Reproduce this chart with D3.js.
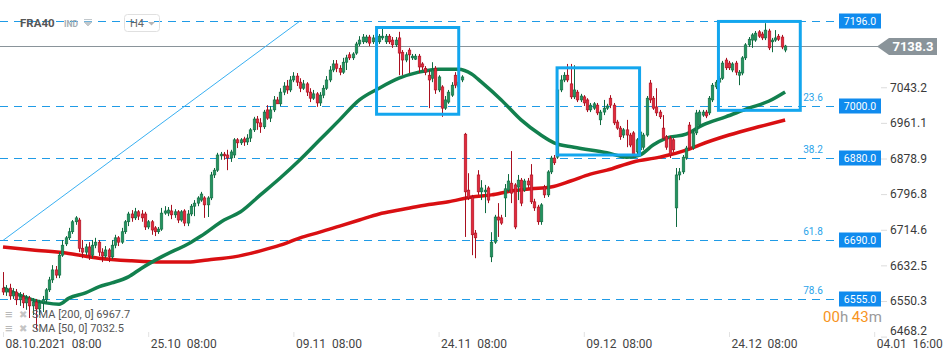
<!DOCTYPE html>
<html>
<head>
<meta charset="utf-8">
<script src="https://cdn.jsdelivr.net/npm/d3@7"></script>
<style>
  body { margin: 0; background: #fff; }
  svg { font-family: Roboto, "Liberation Sans", sans-serif; display: block; }
</style>
</head>
<body>
<div id="chart"></div>
<script>
// H4 candles, one row per bar: [open, high, low, close]
const bars = [
  [6580,6617,6564,6571],[6571,6587,6562,6580],[6580,6590,6553,6562],[6562,6580,6555,6571],[6571,6578,6541,6553],
  [6553,6571,6539,6560],[6560,6569,6534,6546],[6546,6564,6530,6557],[6557,6562,6511,6539],[6539,6557,6518,6548],
  [6548,6555,6484,6532],[6532,6553,6518,6546],[6546,6562,6525,6553],[6553,6580,6546,6576],[6576,6606,6571,6599],
  [6599,6633,6592,6622],[6622,6631,6603,6610],[6610,6663,6603,6656],[6656,6691,6652,6679],[6682,6700,6677,6696],
  [6696,6719,6691,6710],[6710,6737,6705,6733],[6733,6746,6726,6742],[6737,6742,6663,6672],[6672,6691,6649,6663],
  [6663,6682,6656,6675],[6675,6686,6645,6656],[6656,6691,6649,6679],[6679,6696,6672,6686],[6686,6691,6654,6663],
  [6663,6672,6640,6654],[6654,6677,6649,6668],[6668,6672,6640,6652],[6652,6691,6647,6679],[6679,6703,6672,6696],
  [6696,6700,6677,6686],[6686,6719,6682,6710],[6710,6737,6705,6733],[6733,6756,6723,6751],[6751,6760,6733,6742],
  [6742,6765,6737,6756],[6756,6760,6737,6746],[6751,6760,6733,6742],[6751,6756,6714,6721],[6721,6737,6716,6733],
  [6733,6737,6703,6714],[6719,6723,6700,6710],[6710,6721,6705,6716],[6716,6765,6712,6753],[6753,6769,6749,6758],
  [6753,6767,6746,6760],[6758,6772,6739,6749],[6749,6762,6742,6756],[6756,6760,6730,6737],[6737,6760,6733,6756],
  [6758,6762,6723,6730],[6730,6760,6723,6751],[6751,6774,6746,6769],[6769,6783,6746,6776],[6776,6792,6769,6788],
  [6783,6802,6779,6797],[6788,6792,6742,6772],[6772,6792,6744,6788],[6788,6848,6783,6841],[6841,6857,6834,6852],
  [6852,6892,6848,6887],[6885,6894,6876,6889],[6889,6894,6876,6885],[6887,6899,6852,6880],[6880,6899,6871,6894],
  [6887,6926,6880,6922],[6922,6926,6903,6915],[6915,6926,6910,6922],[6924,6929,6908,6917],[6917,6935,6910,6926],
  [6926,6949,6917,6945],[6945,6975,6940,6970],[6970,6977,6945,6961],[6961,6972,6938,6952],[6952,6991,6947,6986],
  [6991,7002,6968,6972],[6972,7000,6963,6991],[6991,7023,6986,7014],[7014,7021,7005,7005],[7005,7041,7000,7032],
  [7032,7055,7025,7046],[7046,7060,7028,7037],[7037,7069,7032,7060],[7060,7078,7055,7069],[7069,7076,7046,7055],
  [7055,7064,7032,7041],[7041,7060,7037,7051],[7051,7055,7023,7032],[7032,7041,7009,7018],[7018,7037,7014,7028],
  [7028,7032,6998,7007],[7007,7032,7000,7025],[7025,7048,7018,7041],[7041,7069,7037,7060],[7060,7092,7055,7083],
  [7083,7106,7078,7097],[7097,7106,7078,7087],[7087,7094,7071,7078],[7078,7111,7074,7101],[7101,7118,7083,7111],
  [7118,7124,7106,7111],[7111,7124,7106,7120],[7122,7148,7118,7143],[7143,7161,7138,7152],[7148,7166,7143,7159],
  [7148,7164,7145,7159],[7159,7164,7138,7145],[7148,7164,7143,7157],[7157,7164,7145,7152],[7148,7166,7143,7161],
  [7157,7180,7152,7161],[7148,7166,7143,7161],[7161,7166,7143,7148],[7152,7159,7134,7141],[7141,7159,7136,7152],
  [7157,7171,7071,7122],[7124,7129,7071,7106],[7106,7124,7101,7118],[7129,7134,7076,7118],[7111,7120,7106,7115],
  [7108,7120,7106,7115],[7115,7120,7076,7090],[7097,7101,7083,7090],[7087,7092,7071,7078],[7071,7083,6995,7060],
  [7064,7101,7055,7083],[7087,7092,7028,7037],[7037,7071,7032,7067],[7044,7048,6975,6995],[6995,7023,6991,7014],
  [7009,7037,7005,7032],[7025,7055,7021,7048],[7071,7078,7041,7048],[7044,7060,7041,7055],[7060,7071,7055,7067],
  [6935,6938,6698,6802],[6806,6845,6783,6788],[6790,6795,6656,6703],[6707,6714,6649,6696],[6841,6852,6795,6802],
  [6802,6829,6783,6811],[6802,6818,6753,6806],[6811,6815,6776,6783],[6652,6709,6640,6686],[6686,6749,6682,6744],
  [6744,6776,6698,6737],[6742,6749,6726,6730],[6788,6820,6744,6809],[6806,6843,6802,6827],[6822,6896,6776,6799],
  [6818,6822,6716,6721],[6813,6841,6783,6829],[6829,6834,6769,6776],[6806,6832,6802,6827],[6827,6834,6811,6818],
  [6841,6866,6774,6779],[6779,6786,6758,6765],[6767,6772,6726,6733],[6733,6776,6726,6772],[6813,6818,6788,6795],
  [6795,6852,6790,6848],[6848,6885,6843,6880],[6880,6887,6864,6869],[6882,7041,6878,7037],[7037,7071,7032,7060],
  [7060,7078,7055,7071],[7071,7097,7055,7060],[7051,7097,7016,7021],[7021,7094,7016,7037],[7032,7037,7009,7014],
  [7014,7028,7009,7023],[7021,7025,7000,7007],[7014,7018,6986,6991],[6991,7007,6986,7002],[6995,7009,6991,7005],
  [7002,7007,6979,6984],[6968,6991,6956,6986],[6986,7014,6979,6995],[6995,7005,6991,7000],[7018,7025,6995,7002],
  [7002,7007,6956,6961],[6963,6968,6945,6949],[6949,6954,6922,6929],[6933,6949,6926,6945],[6945,6968,6905,6933],
  [6933,6938,6905,6910],[6938,6942,6882,6887],[6894,6926,6887,6922],[6899,6945,6894,6940],[6905,6938,6899,6933],
  [6933,7023,6929,7018],[7053,7060,7007,7014],[7018,7023,6991,6995],[6998,7041,6977,6984],[6986,6991,6970,6975],
  [6949,6979,6922,6926],[6929,6933,6899,6905],[6926,6931,6880,6887],[6922,6926,6894,6899],[6765,6857,6721,6841],
  [6841,6857,6829,6848],[6848,6887,6843,6882],[6880,6908,6876,6903],[6956,6963,6899,6903],[6903,6945,6899,6938],
  [6938,6991,6933,6984],[6956,6991,6952,6986],[6979,6991,6975,6986],[6986,6991,6972,6977],[6984,7023,6979,7018],
  [7014,7053,7009,7048],[7044,7060,7039,7055],[7055,7069,7051,7064],[7064,7104,7060,7099],[7106,7111,7083,7088],
  [7099,7104,7083,7088],[7083,7101,7078,7097],[7099,7104,7071,7078],[7071,7083,7048,7078],[7076,7115,7071,7111],
  [7111,7145,7106,7141],[7141,7159,7136,7154],[7152,7168,7134,7164],[7152,7173,7148,7168],[7171,7175,7157,7161],
  [7166,7171,7152,7157],[7157,7191,7152,7175],[7173,7178,7129,7134],[7148,7157,7124,7152],[7152,7175,7148,7157],
  [7161,7166,7150,7154],[7159,7164,7131,7136],[7129,7141,7124,7138.3]
];

// moving averages: [bar index, value]
const sma50 = [
  [0,6580],[5,6564],[9,6553],[13,6546],[17,6543],[20,6557],[25,6569],[29,6583],[33,6592],[38,6606],
  [42,6626],[48,6652],[57,6686],[60,6700],[67,6737],[72,6756],[78,6795],[84,6834],[90,6876],[96,6922],
  [102,6968],[108,7014],[114,7041],[120,7064],[126,7078],[132,7085],[138,7085],[142,7074],[145,7055],
  [151,7014],[157,6968],[163,6933],[167,6915],[173,6905],[183,6892],[189,6882],[193,6887],[197,6910],
  [201,6926],[207,6935],[212,6956],[219,6975],[226,6995],[232,7011],[237,7032.5]
];
const sma200 = [
  [0,6675],[9,6668],[19,6661],[29,6649],[39,6643],[48,6640],[56,6640],[62,6645],[70,6652],[78,6666],
  [84,6679],[90,6696],[96,6709],[102,6723],[108,6737],[114,6751],[120,6760],[126,6769],[135,6779],
  [142,6790],[148,6795],[154,6804],[160,6809],[166,6813],[172,6827],[178,6843],[183,6852],[191,6871],
  [199,6882],[207,6898],[211,6910],[220,6933],[229,6952],[237,6967.7]
];

const fibLevels = [7196.0, 7000.0, 6880.0, 6690.0, 6555.0];
const fibPct = ["", "23.6", "38.2", "61.8", "78.6"];
const lastPrice = 7138.3;
const priceTicks = [7043.2, 6961.1, 6878.9, 6796.8, 6714.6, 6632.5, 6550.3, 6468.2];
const timeTicks = [0, 44, 88, 132, 176, 220, 264];
const timeLabels = ["08.10.2021  08:00", "25.10  08:00", "09.11  08:00", "24.11  08:00",
                    "09.12  08:00", "24.12  08:00", "04.01  16:00"];
// boxes: [first bar, last bar, top price, bottom price]
const boxes = [[113.2, 138.1, 7181, 6981], [167.9, 192.9, 7088, 6887], [216.8, 241.6, 7195, 6990]];
const trend = [[0, 6690], [90, 7196]];

const w = 950, h = 361;
const plotRight = 836;

const x = d3.scaleLinear().domain([0, 237]).range([3, 3 + 237 * 3.3]);
const y = d3.scaleLinear().domain([6468.2, 7196]).range([336.6, 21]);

const svg = d3.select("#chart").append("svg")
    .attr("width", w)
    .attr("height", h);

svg.append("defs").append("clipPath").attr("id", "plot")
  .append("rect").attr("x", 0).attr("y", 0).attr("width", plotRight).attr("height", 332);

// fibonacci dashed levels
const fibColor = "#1f9be6";
svg.append("g").selectAll("line")
  .data(fibLevels)
  .join("line")
  .attr("x1", 0)
  .attr("x2", 838)
  .attr("y1", d => Math.round(y(d)) + 0.5)
  .attr("y2", d => Math.round(y(d)) + 0.5)
  .attr("stroke", fibColor)
  .attr("stroke-width", 1)
  .attr("stroke-dasharray", "8,6");

svg.append("g").selectAll("text")
  .data(fibLevels)
  .join("text")
  .attr("x", 813)
  .attr("y", d => y(d) - 5)
  .attr("text-anchor", "middle")
  .attr("font-size", 10)
  .attr("fill", "#2aa4ea")
  .text((d, i) => fibPct[i]);

// last price line
svg.append("line")
  .attr("x1", 0).attr("x2", 878)
  .attr("y1", Math.round(y(lastPrice)) + 0.5)
  .attr("y2", Math.round(y(lastPrice)) + 0.5)
  .attr("stroke", "#8a949a")
  .attr("stroke-width", 1);

const plot = svg.append("g").attr("clip-path", "url(#plot)");

// trend line
plot.append("line")
  .attr("x1", x(trend[0][0])).attr("y1", y(trend[0][1]))
  .attr("x2", x(trend[1][0])).attr("y2", y(trend[1][1]))
  .attr("stroke", "#39b0f2")
  .attr("stroke-width", 1);

// moving averages
const line = d3.line()
  .x(d => x(d[0]))
  .y(d => y(d[1]))
  .curve(d3.curveMonotoneX);

plot.append("path")
  .attr("d", line(sma200))
  .attr("fill", "none")
  .attr("stroke", "#d90f12")
  .attr("stroke-width", 3.5);

plot.append("path")
  .attr("d", line(sma50))
  .attr("fill", "none")
  .attr("stroke", "#12804e")
  .attr("stroke-width", 3.5);

// candles
const upFill = "#23935f", upLine = "#0f6a40";
const dnFill = "#e22a3c", dnLine = "#a80f1f";

const candles = plot.append("g").selectAll("g")
  .data(bars)
  .join("g");

candles.append("line")
  .attr("x1", (d, i) => Math.round(x(i)) + 0.5)
  .attr("x2", (d, i) => Math.round(x(i)) + 0.5)
  .attr("y1", d => y(d[1]))
  .attr("y2", d => y(d[2]))
  .attr("stroke", d => d[3] >= d[0] ? upLine : dnLine)
  .attr("stroke-width", 1);

candles.append("rect")
  .attr("x", (d, i) => Math.round(x(i)) - 0.8)
  .attr("width", 2.6)
  .attr("y", d => y(Math.max(d[0], d[3])))
  .attr("height", d => Math.max(1, Math.abs(y(d[0]) - y(d[3]))))
  .attr("fill", d => d[3] >= d[0] ? upFill : dnFill)
  .attr("stroke", d => d[3] >= d[0] ? upLine : dnLine)
  .attr("stroke-width", 0.6);

// highlight boxes
svg.append("g").selectAll("rect")
  .data(boxes)
  .join("rect")
  .attr("x", d => x(d[0]))
  .attr("y", d => y(d[2]))
  .attr("width", d => x(d[1]) - x(d[0]))
  .attr("height", d => y(d[3]) - y(d[2]))
  .attr("fill", "none")
  .attr("stroke", "#13a6ee")
  .attr("stroke-width", 3);

// price axis on the right
const yAxis = d3.axisRight(y)
  .tickValues(priceTicks)
  .tickSize(6)
  .tickPadding(3)
  .tickFormat(d3.format(".1f"));

const yG = svg.append("g")
  .attr("transform", "translate(881,0)")
  .call(yAxis);
yG.select(".domain").remove();
yG.selectAll(".tick line").attr("stroke", "#dcdcdc");
yG.selectAll(".tick text")
  .attr("font-size", 12)
  .attr("font-family", "Roboto, sans-serif")
  .attr("fill", "#3a3a3a")
  .attr("dy", (d, i) => i === priceTicks.length - 1 ? "-0.2em" : "0.32em");

// level tags
const tags = svg.append("g").selectAll("g")
  .data(fibLevels)
  .join("g")
  .attr("transform", d => "translate(839," + Math.round(y(d)) + ")");
tags.append("rect")
  .attr("x", 0).attr("y", -7.5)
  .attr("width", 42).attr("height", 15)
  .attr("fill", "#108bee");
tags.append("text")
  .attr("x", 21).attr("y", 0)
  .attr("dy", "0.35em")
  .attr("text-anchor", "middle")
  .attr("font-size", 10.5)
  .attr("fill", "#fff")
  .text(d => d3.format(".1f")(d));

// last price tag
const ly = Math.round(y(lastPrice)) + 0.5;
svg.append("path")
  .attr("d", `M877,${ly} L889,${ly - 8.5} L937,${ly - 8.5} L937,${ly + 8.5} L889,${ly + 8.5} Z`)
  .attr("fill", "#8a949a");
svg.append("text")
  .attr("x", 913).attr("y", ly)
  .attr("dy", "0.35em")
  .attr("text-anchor", "middle")
  .attr("font-size", 13)
  .attr("font-weight", "bold")
  .attr("fill", "#fff")
  .text(d3.format(".1f")(lastPrice));

// countdown
const cd = svg.append("text")
  .attr("x", 823).attr("y", 322)
  .attr("font-size", 15);
cd.append("tspan").attr("fill", "#f7941d").text("00");
cd.append("tspan").attr("fill", "#9a9a9a").text("h ");
cd.append("tspan").attr("fill", "#f7941d").text("43");
cd.append("tspan").attr("fill", "#9a9a9a").text("m");

// time axis
const xAxis = d3.axisBottom(x)
  .tickValues(timeTicks)
  .tickSize(5)
  .tickFormat((d, i) => timeLabels[i]);

const xG = svg.append("g")
  .attr("transform", "translate(0,332)")
  .call(xAxis);
xG.select(".domain").remove();
xG.selectAll(".tick line").attr("stroke", "#e2e2e2");
xG.selectAll(".tick text")
  .attr("text-anchor", "start")
  .attr("x", 2)
  .attr("y", 7)
  .attr("font-size", 12)
  .attr("font-family", "Roboto, sans-serif")
  .attr("fill", "#444")
  .style("white-space", "pre");

// legend
const legend = [["SMA [200, 0] ", sma200[sma200.length - 1][1]], ["SMA [50, 0] ", sma50[sma50.length - 1][1]]];
const lg = svg.append("g").selectAll("g")
  .data(legend)
  .join("g")
  .attr("transform", (d, i) => "translate(0," + (314 + i * 14.5) + ")");
lg.append("text").attr("x", 5).attr("dy", "0.35em").attr("font-size", 13).attr("font-weight", "bold").attr("fill", "#b8b8b8").text("\u2261");
lg.append("text").attr("x", 19).attr("dy", "0.35em").attr("font-size", 10).attr("fill", "#c4c4c4").text("\u2716");
lg.append("text").attr("x", 32).attr("dy", "0.35em").attr("font-size", 11).attr("fill", "#555")
  .text(d => d[0] + d3.format(".1f")(d[1]));

// header
svg.append("text").attr("x", 20).attr("y", 27)
  .attr("font-size", 11.5).attr("font-weight", "bold").attr("fill", "#555")
  .text("FRA40");
svg.append("text").attr("x", 64).attr("y", 26.5)
  .attr("font-size", 8.5).attr("font-weight", "bold").attr("fill", "#a4adb3")
  .text("IND");
svg.append("path").attr("d", "M84,19.5 H92 M84,22 L92,22 L88,26 Z")
  .attr("fill", "#c2c8cc").attr("stroke", "#c2c8cc").attr("stroke-width", 1);
svg.append("rect").attr("x", 124.5).attr("y", 14.5).attr("width", 35).attr("height", 17).attr("rx", 3)
  .attr("fill", "none").attr("stroke", "#e0e0e0");
svg.append("text").attr("x", 130).attr("y", 27).attr("font-size", 11).attr("fill", "#666").text("H4");
svg.append("path").attr("d", "M148,22 L155,22 L151.5,25.5 Z").attr("fill", "#b5b5b5");
</script>
</body>
</html>
